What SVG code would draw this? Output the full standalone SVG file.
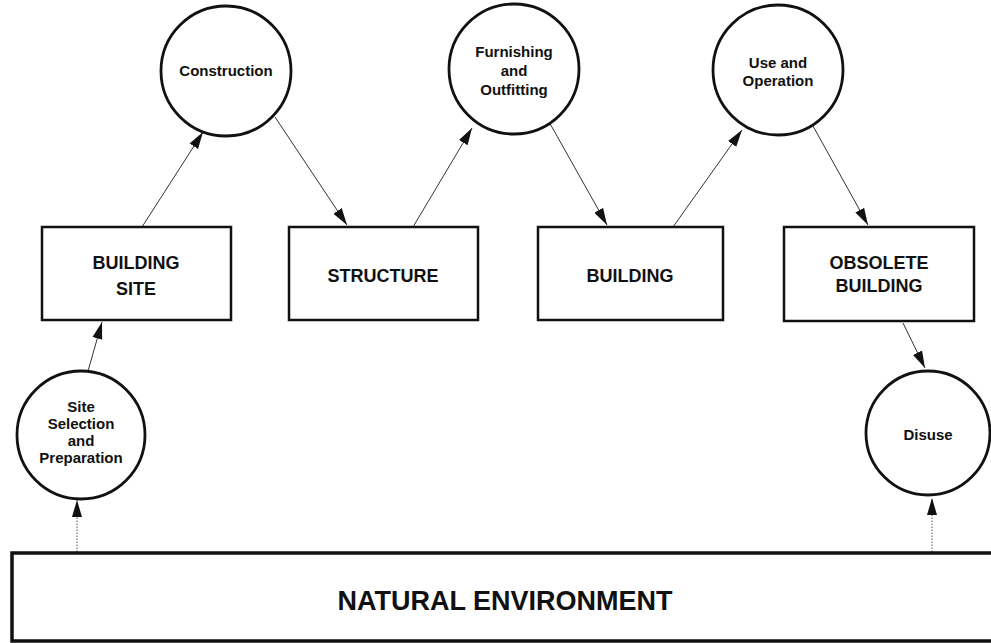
<svg xmlns="http://www.w3.org/2000/svg" width="991" height="643" viewBox="0 0 991 643">
<style>
.box{fill:#fff;stroke:#111;stroke-width:2.5}
.circ{fill:#fff;stroke:#111;stroke-width:2.8}
.env{fill:#fff;stroke:#111;stroke-width:3.5}
.lbl{font-family:"Liberation Sans",Arial,sans-serif;font-weight:bold;fill:#111;text-anchor:middle}
.bl{font-size:18px}
.cl{font-size:15px}
.el{font-size:27px}
.con{stroke:#333;stroke-width:1;fill:none;marker-end:url(#ah)}
.dot{stroke:#555;stroke-width:1;stroke-dasharray:1.5 1.5;fill:none;marker-end:url(#ah)}
</style>
<defs>
<marker id="ah" markerUnits="userSpaceOnUse" markerWidth="18" markerHeight="12" viewBox="0 0 18 12" refX="17" refY="6" orient="auto">
<path d="M0,1 L17,6 L0,11 Z" fill="#111"/>
</marker>
</defs>
<rect width="991" height="643" fill="#fff"/>
<g id="connectors">
<line class="dot" x1="77" y1="552" x2="77" y2="500"/>
<line class="con" x1="88" y1="371" x2="102" y2="322"/>
<line class="con" x1="142" y1="227" x2="203" y2="132"/>
<line class="con" x1="275" y1="117" x2="347" y2="225"/>
<line class="con" x1="413" y1="227" x2="472" y2="128"/>
<line class="con" x1="548" y1="120" x2="607" y2="225"/>
<line class="con" x1="673" y1="227" x2="742" y2="130"/>
<line class="con" x1="813" y1="126" x2="868" y2="225"/>
<line class="con" x1="903" y1="323" x2="925" y2="368"/>
<line class="dot" x1="932" y1="552" x2="932" y2="498"/>
</g>
<g id="natural-environment">
<rect class="env" x="12" y="553" width="990" height="88"/>
<text class="lbl el" x="505" y="610">NATURAL ENVIRONMENT</text>
</g>
<g id="site-selection">
<circle class="circ" cx="81" cy="435" r="64"/>
<text class="lbl cl" x="81" y="412">Site</text>
<text class="lbl cl" x="81" y="429">Selection</text>
<text class="lbl cl" x="81" y="446">and</text>
<text class="lbl cl" x="81" y="463">Preparation</text>
</g>
<g id="building-site">
<rect class="box" x="42" y="227" width="189" height="93"/>
<text class="lbl bl" x="136" y="269">BUILDING</text>
<text class="lbl bl" x="136" y="295">SITE</text>
</g>
<g id="construction">
<circle class="circ" cx="226" cy="71" r="65"/>
<text class="lbl cl" x="226" y="76">Construction</text>
</g>
<g id="structure">
<rect class="box" x="289" y="227" width="189" height="93"/>
<text class="lbl bl" x="383" y="282">STRUCTURE</text>
</g>
<g id="furnishing">
<circle class="circ" cx="514" cy="69" r="65"/>
<text class="lbl cl" x="514" y="57">Furnishing</text>
<text class="lbl cl" x="514" y="76">and</text>
<text class="lbl cl" x="514" y="95">Outfitting</text>
</g>
<g id="building">
<rect class="box" x="538" y="227" width="185" height="93"/>
<text class="lbl bl" x="630" y="282">BUILDING</text>
</g>
<g id="use-operation">
<circle class="circ" cx="778" cy="70" r="65"/>
<text class="lbl cl" x="778" y="68">Use and</text>
<text class="lbl cl" x="778" y="86">Operation</text>
</g>
<g id="obsolete-building">
<rect class="box" x="784" y="227" width="190" height="94"/>
<text class="lbl bl" x="879" y="269">OBSOLETE</text>
<text class="lbl bl" x="879" y="292">BUILDING</text>
</g>
<g id="disuse">
<circle class="circ" cx="928" cy="433" r="62"/>
<text class="lbl cl" x="928" y="440">Disuse</text>
</g>
</svg>
